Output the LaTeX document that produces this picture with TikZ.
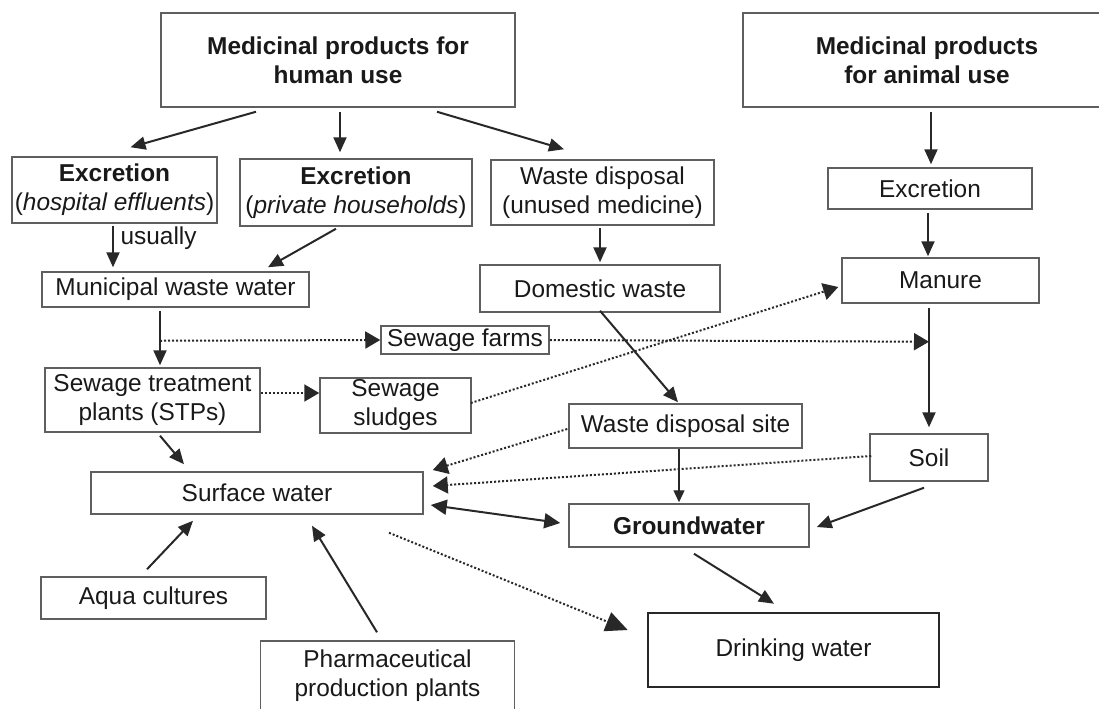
\documentclass[tikz,border=0pt]{standalone}
\usepackage{fontspec}
\setmainfont{Liberation Sans}
\usetikzlibrary{arrows.meta,calc}
\definecolor{linecolor}{RGB}{40,40,40}
\definecolor{boxcolor}{RGB}{95,95,95}
\newcommand{\mainsize}{\fontsize{12.2}{14.5}\selectfont}

\begin{document}
\begin{tikzpicture}[
  x=0.5pt, y=-0.5pt,
  box/.style={
    rectangle,
    draw=boxcolor,
    line width=0.75pt,
    inner sep=1pt,
    align=center,
    text=black!90,
    font=\mainsize
  },
  thickbox/.style={
    box,
    draw=linecolor,
    line width=1.3pt
  },
  flow/.style={
    -{Triangle[length=7.5pt,width=6.5pt]},
    line width=1pt,
    draw=linecolor
  },
  seep/.style={
    -{Triangle[length=7.5pt,width=8.5pt]},
    densely dotted,
    line width=1pt,
    draw=linecolor
  }
  ]
  \clip (0,0) rectangle (1099,708);
  \fill[white] (0,0) rectangle (1099,708);

  \node[box, minimum width=177pt, minimum height=47pt, font=\mainsize\bfseries] (human) at (338,60) {Medicinal products for\\human use};
  \node[box, minimum width=184pt, minimum height=47pt, font=\mainsize\bfseries] (animal) at (927,60) {Medicinal products\\for animal use};
  \node[box, minimum width=102.5pt, minimum height=33pt] (hosp) at (114.5,190) {\textbf{Excretion}\\(\textit{hospital effluents})};
  \node[box, minimum width=116pt, minimum height=33.5pt] (priv) at (356,192.5) {\textbf{Excretion}\\(\textit{private households})};
  \node[box, minimum width=111.5pt, minimum height=32.5pt] (waste) at (602.5,192.5) {Waste disposal\\(unused medicine)};
  \node[box, minimum width=102pt, minimum height=20.5pt] (excan) at (930,188.5) {Excretion};
  \node[box, minimum width=133.5pt, minimum height=17.5pt] (muni) at (175.5,289.5) {Municipal waste water};
  \node[box, minimum width=120pt, minimum height=23.5pt] (domestic) at (600,288.5) {Domestic waste};
  \node[box, minimum width=98.5pt, minimum height=22.5pt] (manure) at (940.5,280.5) {Manure};
  \node[box, minimum width=84pt, minimum height=14pt] (farms) at (465,340) {Sewage farms};
  \node[box, minimum width=107.5pt, minimum height=32pt] (stp) at (152.5,400) {Sewage treatment\\plants (STPs)};
  \node[box, minimum width=75.5pt, minimum height=27.5pt] (sludge) at (395.5,405.5) {Sewage\\sludges};
  \node[box, minimum width=116.5pt, minimum height=22pt] (site) at (685.5,426) {Waste disposal site};
  \node[box, minimum width=59pt, minimum height=23.5pt] (soil) at (929,457.5) {Soil};
  \node[box, minimum width=166pt, minimum height=21pt] (surface) at (257,493) {Surface water};
  \node[box, minimum width=120pt, minimum height=21.5pt, font=\mainsize\bfseries] (ground) at (689,525.5) {Groundwater};
  \node[box, minimum width=112.5pt, minimum height=21pt] (aqua) at (153.5,598) {Aqua cultures};
  \node[box, minimum width=127pt, minimum height=35pt] (pharma) at (387.5,676) {Pharmaceutical\\production plants};
  \node[thickbox, minimum width=145.5pt, minimum height=37pt] (drinking) at (793.5,650) {Drinking water};

  \coordinate (branch) at ($(muni.south)+(-15.5,33)$);
  \coordinate (junction) at ($(manure.south)+(-11.5,38)$);

  \draw[flow] ($(human.south)+(-82,4)$) -- ($(hosp.north)+(16,-9)$);
  \draw[flow] ($(human.south)+(2,4)$) -- ($(priv.north)+(-16,-6)$);
  \draw[flow] ($(human.south)+(99,4)$) -- ($(waste.north)+(-38.5,-10)$);
  \draw[flow] ($(hosp.south)+(-1.5,2)$) -- node[right, pos=0.3, font=\mainsize, text=black!90] {usually} ($(muni.north)+(-62.5,-4)$);
  \draw[flow] ($(priv.south)+(-20,2)$) -- ($(muni.north)+(92.5,-4)$);
  \draw[flow] ($(waste.south)+(-2.5,2)$) -- ($(domestic.north)+(0,-2)$);
  \draw[flow] ($(animal.south)+(4,4)$) -- ($(excan.north)+(1,-3)$);
  \draw[flow] ($(excan.south)+(-2,3)$) -- ($(manure.north)+(-12.5,-1)$);
  \draw[flow] ($(manure.south)+(-11.5,4)$) -- ($(soil.north)+(0,-6)$);
  \draw[flow] ($(muni.south)+(-15.5,3)$) -- ($(stp.north)+(7.5,-2)$);
  \draw[seep] (branch) -- (farms.west);
  \draw[seep] (farms.east) -- (junction);
  \draw[seep] ($(stp.east)+(0,-7)$) -- ($(sludge.west)+(0,-12.5)$);
  \draw[seep] ($(sludge.east)+(-1,-2.5)$) -- ($(manure.west)+(-3,6.5)$);
  \draw[flow] ($(domestic.south)+(0,-2)$) -- ($(site.north)+(-7.5,-1)$);
  \draw[seep] ($(site.west)+(-1,3)$) -- ($(surface.east)+(9,-23)$);
  \draw[seep] ($(soil.west)+(2,-1.5)$) -- ($(surface.east)+(9,-7)$);
  \draw[flow, {Triangle[length=8pt,width=7.5pt]}-{Triangle[length=8pt,width=7.5pt]}] ($(surface.east)+(7,12)$) -- ($(ground.west)+(-8,-2.5)$);
  \draw[flow, line width=0.7pt, -{Triangle[length=6pt,width=5.5pt]}] ($(site.south)+(-6.5,0)$) -- ($(ground.north)+(-10,-1)$);
  \draw[flow] ($(soil.south)+(-5,6)$) -- ($(ground.east)+(7,1.5)$);
  \draw[flow] ($(stp.south)+(7.5,3)$) -- ($(surface.north)+(-73,-7)$);
  \draw[flow] ($(aqua.north)+(-6.5,-7)$) -- ($(surface.south)+(-64,6)$);
  \draw[flow] ($(pharma.north)+(-10.5,-8)$) -- ($(surface.south)+(55,11)$);
  \draw[seep, -{Triangle[length=11pt,width=10pt]}] ($(surface.south)+(132,18)$) -- ($(drinking.west)+(-19,-20)$);
  \draw[flow] ($(ground.south)+(5,6)$) -- ($(drinking.north)+(-19.5,-8)$);
\end{tikzpicture}
\end{document}
